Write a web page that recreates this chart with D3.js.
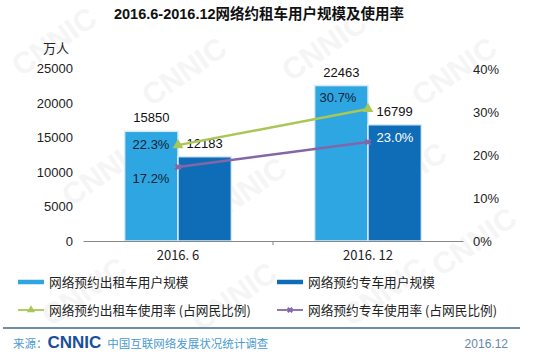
<!DOCTYPE html>
<html>
<head>
<meta charset="utf-8">
<script src="https://cdn.jsdelivr.net/npm/d3@7"></script>
<style>
  body { margin: 0; background: #fff; }
  svg { font-family: Arial, "Liberation Sans", "Noto Sans CJK SC", sans-serif; }
</style>
</head>
<body>
<div id="chart"></div>
<script>
// data
const categories = ["2016. 6", "2016. 12"];
const taxiUsers = [15850, 22463];      // 网络预约出租车用户规模 (万人)
const carUsers = [12183, 16799];       // 网络预约专车用户规模 (万人)
const taxiRate = [22.3, 30.7];         // 网络预约出租车使用率 (%)
const carRate = [17.2, 23.0];          // 网络预约专车使用率 (%)
const leftTicks = [0, 5000, 10000, 15000, 20000, 25000];
const rightTicks = [0, 10, 20, 30, 40];

const W = 538, H = 359;
const lightBlue = "#2ea6e2", darkBlue = "#0f6db8", green = "#a9c754", purple = "#8466a8";

const svg = d3.select("#chart").append("svg")
    .attr("width", W)
    .attr("height", H);

// faint watermark
const marks = [[60, 50], [190, 80], [330, 55], [460, 80], [110, 180], [250, 200], [410, 185], [90, 300], [240, 305], [390, 300], [480, 250]];
svg.append("g").selectAll("text").data(marks).join("text")
    .attr("transform", d => `translate(${d[0]},${d[1]}) rotate(-35)`)
    .attr("text-anchor", "middle")
    .attr("font-size", 30)
    .attr("font-weight", "bold")
    .attr("fill", "#f5f5f5")
    .text("CNNIC");

// title
svg.append("text")
    .attr("x", 259).attr("y", 19)
    .attr("text-anchor", "middle")
    .attr("font-size", 14.5)
    .attr("font-weight", "bold")
    .attr("fill", "#111")
    .text("2016.6-2016.12网络约租车用户规模及使用率");

svg.append("text")
    .attr("x", 56).attr("y", 53)
    .attr("text-anchor", "middle")
    .attr("font-size", 13)
    .attr("fill", "#222")
    .text("万人");

const x = d3.scaleBand().domain(categories).range([83, 463]);
const sub = d3.scaleBand().domain(["taxi", "car"]).range([0, x.bandwidth()]).paddingOuter(0.78).paddingInner(0);
const y = d3.scaleLinear().domain([0, 25000]).range([241, 68]);
const y2 = d3.scaleLinear().domain([0, 40]).range([241, 69]);

// left axis labels
svg.append("g").selectAll("text").data(leftTicks).join("text")
    .attr("x", 73).attr("y", d => y(d) + 5)
    .attr("text-anchor", "end")
    .attr("font-size", 13)
    .attr("fill", "#222")
    .text(d => d);

// right axis labels
svg.append("g").selectAll("text").data(rightTicks).join("text")
    .attr("x", 473).attr("y", d => y2(d) + 5)
    .attr("font-size", 13)
    .attr("fill", "#222")
    .text(d => d + "%");

// bars
const rows = categories.map((c, i) => ({c, taxi: taxiUsers[i], car: carUsers[i]}));
const g = svg.append("g");
rows.forEach(r => {
    [["taxi", lightBlue], ["car", darkBlue]].forEach(([k, col]) => {
        g.append("rect")
            .attr("x", x(r.c) + sub(k))
            .attr("y", y(r[k]))
            .attr("width", sub.bandwidth())
            .attr("height", y(0) - y(r[k]))
            .attr("fill", col)
            .attr("stroke", "#d8eaf5")
            .attr("stroke-width", 1.5);
        g.append("text")
            .attr("x", x(r.c) + sub(k) + sub.bandwidth() / 2)
            .attr("y", y(r[k]) - 9)
            .attr("text-anchor", "middle")
            .attr("font-size", 13)
            .attr("fill", "#111")
            .text(r[k]);
    });
});

// x axis
const axis = svg.append("g").attr("transform", `translate(0,${y(0)})`)
    .call(d3.axisBottom(x).tickSize(0).tickPadding(10));
axis.select(".domain").attr("stroke", "#888").attr("stroke-width", 1.2);
axis.selectAll("text").attr("font-size", 13).attr("fill", "#222")
    .attr("font-family", "'Noto Sans CJK SC', sans-serif");
axis.append("line").attr("x1", x(categories[1])).attr("x2", x(categories[1]))
    .attr("y1", 0).attr("y2", 4).attr("stroke", "#888");

// lines
const cx = d => x(d) + x.bandwidth() / 2;
const line = d3.line().x(d => cx(d.c)).y(d => y2(d.v));
const taxiPts = categories.map((c, i) => ({c, v: taxiRate[i]}));
const carPts = categories.map((c, i) => ({c, v: carRate[i]}));

svg.append("path").datum(taxiPts).attr("d", line)
    .attr("fill", "none").attr("stroke", green).attr("stroke-width", 2.5);
svg.append("path").datum(carPts).attr("d", line)
    .attr("fill", "none").attr("stroke", purple).attr("stroke-width", 2.5);

svg.append("g").selectAll("path").data(taxiPts).join("path")
    .attr("transform", d => `translate(${cx(d.c)},${y2(d.v)})`)
    .attr("d", d3.symbol(d3.symbolTriangle, 50))
    .attr("fill", green);
svg.append("g").selectAll("path").data(carPts).join("path")
    .attr("transform", d => `translate(${cx(d.c)},${y2(d.v)}) rotate(45)`)
    .attr("d", d3.symbol(d3.symbolCross, 30))
    .attr("fill", purple);

// rate labels
const rateLabels = [
    {v: taxiRate[0], x: cx(categories[0]) - 27, y: y2(taxiRate[0]) + 4, fill: "#123"},
    {v: carRate[0], x: cx(categories[0]) - 27, y: y2(carRate[0]) + 16, fill: "#123"},
    {v: taxiRate[1], x: cx(categories[1]) - 30, y: y2(taxiRate[1]) - 7, fill: "#123"},
    {v: carRate[1], x: cx(categories[1]) + 27, y: y2(carRate[1]) - 0, fill: "#fff"}
];
svg.append("g").selectAll("text").data(rateLabels).join("text")
    .attr("x", d => d.x).attr("y", d => d.y)
    .attr("text-anchor", "middle")
    .attr("font-size", 13)
    .attr("fill", d => d.fill)
    .text(d => d.v.toFixed(1) + "%");

// legend
const legend = [
    {label: "网络预约出租车用户规模", col: lightBlue, type: "bar", x: 18, y: 282},
    {label: "网络预约专车用户规模", col: darkBlue, type: "bar", x: 277, y: 282},
    {label: "网络预约出租车使用率 (占网民比例)", col: green, type: "tri", x: 18, y: 310},
    {label: "网络预约专车使用率 (占网民比例)", col: purple, type: "x", x: 277, y: 310}
];
const lg = svg.append("g").selectAll("g").data(legend).join("g")
    .attr("transform", d => `translate(${d.x},${d.y})`);
lg.append("line").attr("x1", 0).attr("x2", 26).attr("y1", 0).attr("y2", 0)
    .attr("stroke", d => d.col)
    .attr("stroke-width", d => d.type === "bar" ? 4.5 : 1.8);
lg.filter(d => d.type === "tri").append("path")
    .attr("transform", "translate(13,0)")
    .attr("d", d3.symbol(d3.symbolTriangle, 28)).attr("fill", d => d.col);
lg.filter(d => d.type === "x").append("path")
    .attr("transform", "translate(13,0) rotate(45)")
    .attr("d", d3.symbol(d3.symbolCross, 22)).attr("fill", d => d.col);
lg.append("text").attr("x", 31).attr("y", 5)
    .attr("font-size", 12.7)
    .attr("font-family", "'Noto Sans CJK SC', sans-serif")
    .attr("fill", "#222")
    .text(d => d.label);

// footer
svg.append("line").attr("x1", 3).attr("x2", 520).attr("y1", 328).attr("y2", 328)
    .attr("stroke", "#3d6888").attr("stroke-width", 1.5);
const foot = svg.append("text").attr("x", 13).attr("y", 348).attr("font-size", 11.5)
    .attr("font-family", "'Noto Sans CJK SC', sans-serif");
foot.append("tspan").attr("fill", "#4a9ad0").text("来源：");
foot.append("tspan").attr("fill", "#1a4f9c").attr("font-weight", "900")
    .attr("font-family", "Arial, sans-serif").attr("font-size", 17).text("CNNIC");
foot.append("tspan").attr("fill", "#4a9ad0").attr("dx", 6).text("中国互联网络发展状况统计调查");
svg.append("text").attr("x", 508).attr("y", 348).attr("text-anchor", "end")
    .attr("font-size", 12).attr("fill", "#6688aa").text("2016.12");
</script>
</body>
</html>
